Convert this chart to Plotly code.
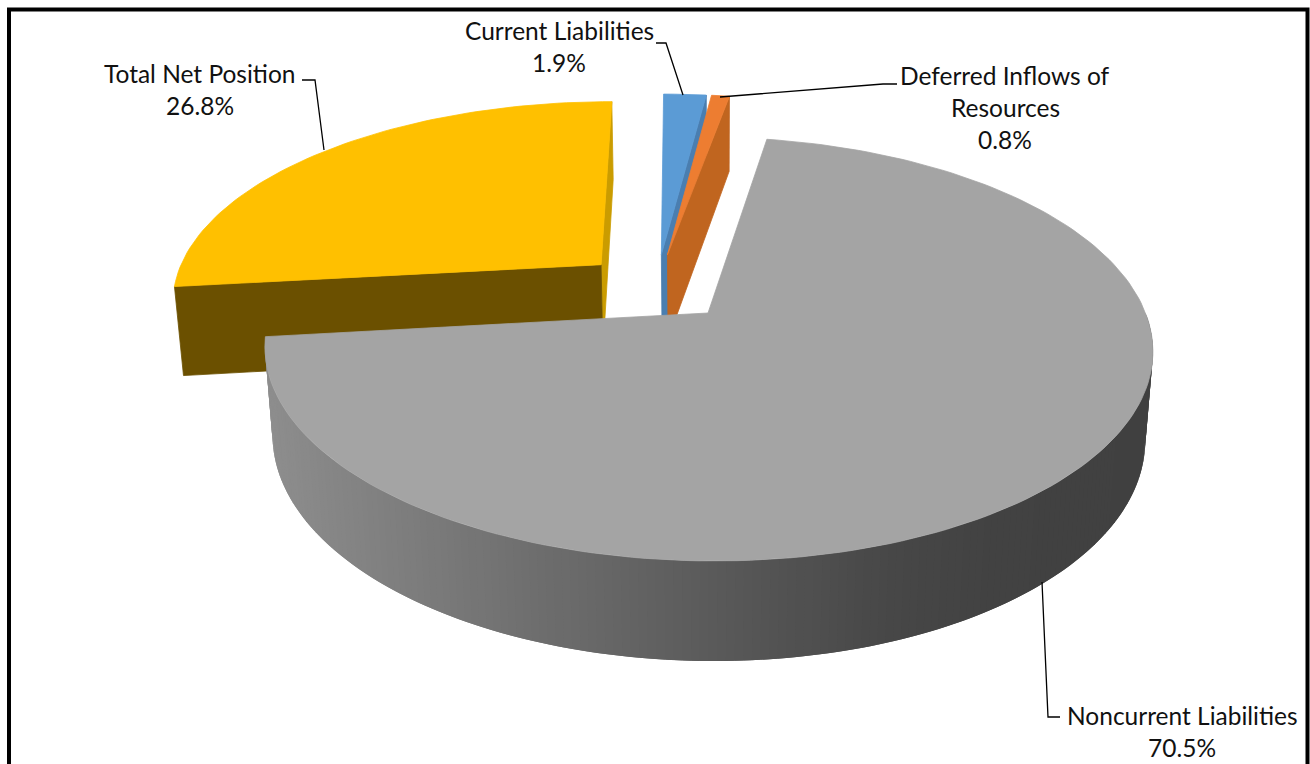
import math
import plotly.graph_objects as go

# ---- data ----
categories = ["Current Liabilities", "Deferred Inflows of Resources", "Noncurrent Liabilities", "Total Net Position"]
shares = [1.9, 0.8, 70.5, 26.8]
label_lines = [["Current Liabilities", "1.9%"],
               ["Deferred Inflows of", "Resources", "0.8%"],
               ["Noncurrent Liabilities", "70.5%"],
               ["Total Net Position", "26.8%"]]

# ---- styling ----
top_colors = ["#5B9BD5", "#ED7D31", "#A4A4A4", "#FFC000"]
wall_colors = ["#4A7EB0", "#C0651F", "#808080", "#6B5000"]
side_colors = ["#4A7EB0", "#C0651F", "#808080", "#CA9C00"]
ramp = [(264, 142), (500, 115), (700, 92), (900, 71), (1000, 66), (1160, 64)]
FONT = "Lato"
FS = 24.5

# ---- 3-D pie camera ----
X0, Y0 = 708, 313
C, A, S, SK, K, T = 0.17, 205.8, 437.5, -5.2, 0.017, 89
EXPLODE = [0.173, 0.173, 0.173, 0.178]
DEPTH = [1, 1, 1, 1.035]


def proj(u, v, z=0.0):
    w = 1 + C * v + K * z
    return X0 + (S * u + SK * v) / w, Y0 + (-A * v + T * z) / w


def grey(x):
    for (x1, g1), (x2, g2) in zip(ramp, ramp[1:]):
        if x <= x2:
            t = max(0, (x - x1) / (x2 - x1))
            g = round(g1 + (g2 - g1) * t)
            return f"rgb({g},{g},{g})"
    g = ramp[-1][1]
    return f"rgb({g},{g},{g})"


fig = go.Figure()


def poly(points, color, name, lw=0.8):
    xs, ys = zip(*points)
    fig.add_trace(go.Scatter(x=list(xs) + [xs[0]], y=list(ys) + [ys[0]], mode="lines", fill="toself",
                             fillcolor=color, line=dict(color=color, width=lw), name=name,
                             hoverinfo="skip", showlegend=False))


total = sum(shares)
angles = []
acc = 0.0
for s in shares:
    angles.append((acc, acc + s / total * 2 * math.pi))
    acc += s / total * 2 * math.pi
bis = [(a + b) / 2 for a, b in angles]
i_ref = shares.index(max(shares))
shift = [(EXPLODE[i] * math.sin(b) - EXPLODE[i_ref] * math.sin(bis[i_ref]),
          EXPLODE[i] * math.cos(b) - EXPLODE[i_ref] * math.cos(bis[i_ref])) for i, b in enumerate(bis)]


def rim(i, t):
    return shift[i][0] + math.sin(t), shift[i][1] + math.cos(t)


def arc(i, t0, t1, n):
    return [rim(i, t0 + (t1 - t0) * k / n) for k in range(n + 1)]


def draw_slice(i):
    a, b = angles[i]
    cu, cv = shift[i]
    name = categories[i]
    d = DEPTH[i]
    # radial wall on the clockwise end (faces right) for the small and top-left slices
    if i != i_ref:
        ou, ov = rim(i, b)
        poly([proj(cu, cv), proj(ou, ov), proj(ou, ov, d), proj(cu, cv, d)], side_colors[i], name)
    # radial wall on the counter-clockwise end of the top-left slice (faces the viewer)
    if i == 3:
        ou, ov = rim(i, a)
        poly([proj(cu, cv), proj(ou, ov), proj(ou, ov, d), proj(cu, cv, d)], wall_colors[i], name)
    # curved wall of the main slice: overlapping bands, so no seams show
    if i == i_ref:
        n = 180
        start = max(a, math.radians(90))
        pts = arc(i, start, b, n)
        for k in range(n - 1, -1, -1):
            p, q = pts[k], pts[min(k + 2, n)]
            quad = [proj(*p), proj(*q), proj(*q, d), proj(*p, d)]
            mid = (proj(*pts[k])[0] + proj(*pts[k + 1])[0]) / 2
            poly(quad, grey(mid), name, lw=0)
    # top face
    poly([proj(cu, cv)] + [proj(u, v) for u, v in arc(i, a, b, max(4, int((b - a) * 40)))], top_colors[i], name)


for i in [0, 1, 3, 2]:
    draw_slice(i)

# ---- leader lines (in picture coordinates of the axes) ----
leaders = [
    ([656, 666, 683], [43, 43, 95]),
    ([897, 883, 720], [84, 84, 97]),
    ([1060, 1048, 1042], [717, 717, 582]),
    ([302, 315, 324], [80, 80, 150]),
]
for lx, ly in leaders:
    fig.add_trace(go.Scatter(x=lx, y=ly, mode="lines", line=dict(color="black", width=1.3),
                             hoverinfo="skip", showlegend=False))

# ---- labels ----
label_anchor = [(559, 30), (1005, 75), (1182, 715), (200, 73)]
LINE_STEP = 32
for lines, (lx, ly) in zip(label_lines, label_anchor):
    for j, t in enumerate(lines):
        fig.add_annotation(x=lx, y=ly + j * LINE_STEP, text=t, showarrow=False, xanchor="center", yanchor="middle",
                           font=dict(family=FONT, size=FS, color="#111111"))

fig.add_shape(type="rect", x0=9, x1=1307.5, y0=9.5, y1=790, line=dict(color="black", width=4), layer="above")

fig.update_layout(width=1310, height=764, autosize=False, margin=dict(l=0, r=0, t=0, b=0),
                  paper_bgcolor="white", plot_bgcolor="white", showlegend=False,
                  xaxis=dict(range=[0, 1310], visible=False, fixedrange=True),
                  yaxis=dict(range=[764, 0], visible=False, fixedrange=True))

fig.write_html("out.html", config={"displayModeBar": False},
               post_script="document.body.style.margin='0';document.body.style.overflow='hidden';")
